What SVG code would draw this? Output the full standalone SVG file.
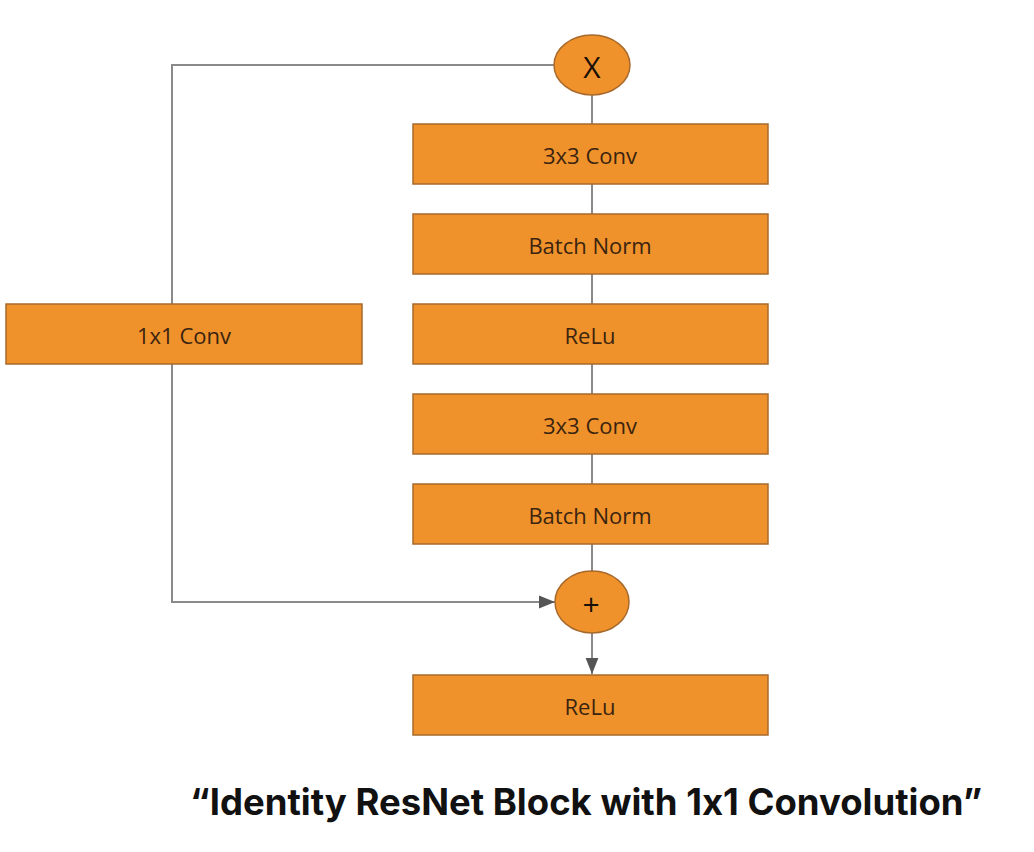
<svg xmlns="http://www.w3.org/2000/svg" width="1034" height="852" viewBox="0 0 1034 852">
<style>
.box{fill:#f0922b;stroke:#a8692c;stroke-width:1.5}
.lbl{font-family:"Open Sans","Liberation Sans",sans-serif;font-size:22px;fill:#3a2410;text-anchor:middle;dominant-baseline:central}
.sym{font-size:30px;fill:#1a1008}
.ln{fill:none;stroke:#8a8a8a;stroke-width:2}
.title{font-family:Inter,"Liberation Sans",sans-serif;font-size:36.5px;font-weight:bold;fill:#111;text-anchor:middle;font-feature-settings:"calt" 0}
</style>
<defs>
<marker id="arr2" viewBox="0 0 10 10" refX="10" refY="5" markerWidth="16" markerHeight="16" markerUnits="userSpaceOnUse" orient="auto">
<path d="M0,1 L10,5 L0,9 z" fill="#555"/>
</marker>
</defs>
<rect width="1034" height="852" fill="#fff"/>
<g id="connectors">
<line class="ln" x1="592" y1="95" x2="592" y2="124"/>
<line class="ln" x1="592" y1="184" x2="592" y2="214"/>
<line class="ln" x1="592" y1="274" x2="592" y2="304"/>
<line class="ln" x1="592" y1="364" x2="592" y2="394"/>
<line class="ln" x1="592" y1="454" x2="592" y2="484"/>
<line class="ln" x1="592" y1="544" x2="592" y2="572"/>
<polyline class="ln" points="555,65 172,65 172,304"/>
<polyline class="ln" points="172,364 172,602 555,602" marker-end="url(#arr2)"/>
<line class="ln" x1="592" y1="633" x2="592" y2="674" marker-end="url(#arr2)"/>
</g>
<g id="mul"><ellipse class="box" cx="592" cy="65" rx="38" ry="30"/><text class="lbl sym" x="592" y="66">X</text></g>
<g id="conv1"><rect class="box" x="413" y="124" width="355" height="60"/><text class="lbl" x="590" y="155">3x3 Conv</text></g>
<g id="bn1"><rect class="box" x="413" y="214" width="355" height="60"/><text class="lbl" x="590" y="245">Batch Norm</text></g>
<g id="relu1"><rect class="box" x="413" y="304" width="355" height="60"/><text class="lbl" x="590" y="335">ReLu</text></g>
<g id="conv2"><rect class="box" x="413" y="394" width="355" height="60"/><text class="lbl" x="590" y="425">3x3 Conv</text></g>
<g id="bn2"><rect class="box" x="413" y="484" width="355" height="60"/><text class="lbl" x="590" y="515">Batch Norm</text></g>
<g id="conv1x1"><rect class="box" x="6" y="304" width="356" height="60"/><text class="lbl" x="184" y="335">1x1 Conv</text></g>
<g id="add"><ellipse class="box" cx="592" cy="602" rx="37" ry="31"/><text class="lbl sym" x="591" y="603">+</text></g>
<g id="relu2"><rect class="box" x="413" y="675" width="355" height="60"/><text class="lbl" x="590" y="706">ReLu</text></g>
<text class="title" x="586" y="815">“Identity ResNet Block with 1x1 Convolution”</text>
</svg>
